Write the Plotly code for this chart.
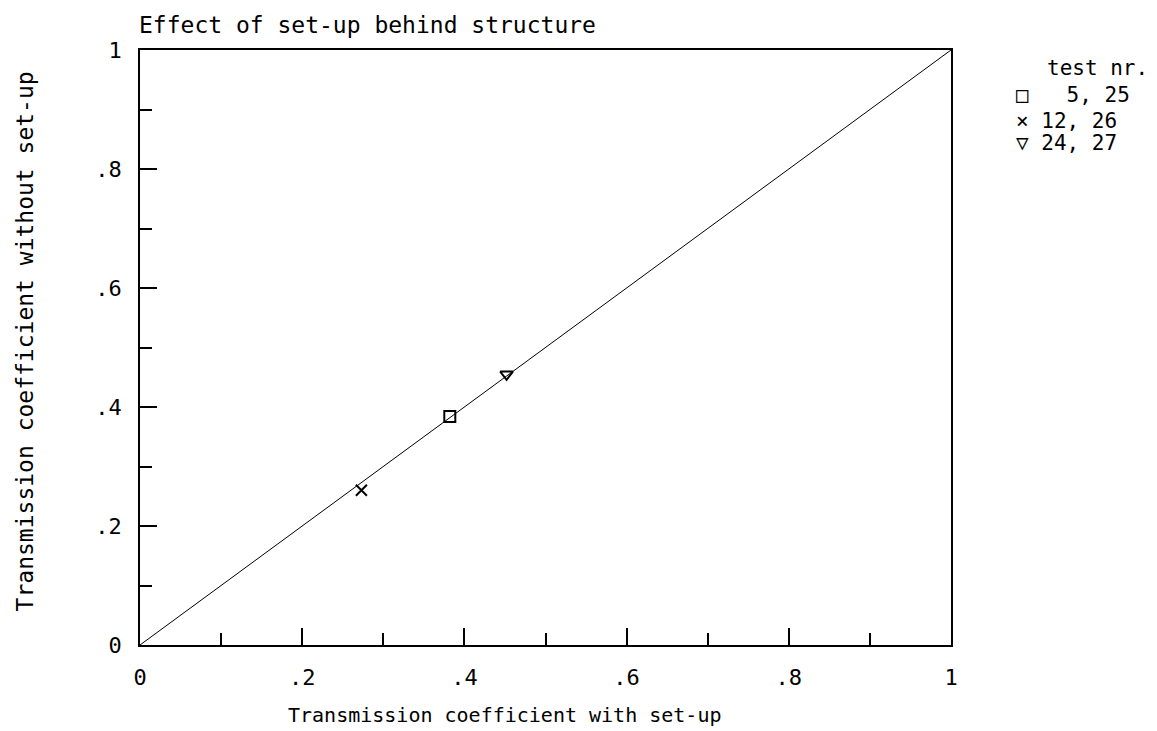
import plotly.graph_objects as go

# Data
series_labels = ["5, 25", "12, 26", "24, 27"]
series_symbols = ["square-open", "x-thin-open", "triangle-down-open"]
series_glyphs = ["\u25a1", "\u00d7", "\u25bd"]
series_pad = ["\u00a0\u00a0\u00a0", "\u00a0", "\u00a0"]
x_with_setup = [0.382, 0.273, 0.452]
y_without_setup = [0.384, 0.260, 0.455]

ref_line_x = [0, 1]
ref_line_y = [0, 1]

tick_vals = [0, 0.2, 0.4, 0.6, 0.8, 1]
tick_text = ["0", ".2", ".4", ".6", ".8", "1"]

FONT = "DejaVu Sans Mono"

fig = go.Figure()
fig.add_trace(go.Scatter(x=ref_line_x, y=ref_line_y, mode="lines",
                         line=dict(color="black", width=1), showlegend=False,
                         hoverinfo="skip"))
for i in range(len(series_labels)):
    fig.add_trace(go.Scatter(
        x=[x_with_setup[i]], y=[y_without_setup[i]], mode="markers",
        name=series_labels[i], showlegend=False,
        marker=dict(symbol=series_symbols[i], size=11, color="black",
                    line=dict(color="black", width=2)),
    ))

axis_common = dict(
    range=[0, 1], tickvals=tick_vals, ticktext=tick_text,
    ticks="inside", ticklen=17, tickwidth=1.5, tickcolor="black",
    showline=True, linecolor="black", linewidth=1.5, mirror=True,
    showgrid=False, zeroline=False,
    tickfont=dict(family=FONT, size=22, color="black"),
    minor=dict(ticks="inside", ticklen=12, tickwidth=1.5, tickcolor="black",
               dtick=0.1, showgrid=False),
)

fig.update_xaxes(**axis_common, ticklabelstandoff=12)
fig.update_yaxes(**axis_common, ticklabelstandoff=12)

annotations = [
    dict(text="Effect of set-up behind structure", xref="paper", yref="paper",
         x=-0.004, y=1.042, xanchor="left", yanchor="middle", showarrow=False,
         font=dict(family=FONT, size=23, color="black")),
    dict(text="Transmission coefficient with set-up", xref="paper", yref="paper",
         x=0.45, y=-0.118, xanchor="center", yanchor="middle", showarrow=False,
         font=dict(family=FONT, size=20, color="black")),
    dict(text="Transmission coefficient without set-up", xref="paper", yref="paper",
         x=-0.142, y=0.51, xanchor="center", yanchor="middle", showarrow=False,
         textangle=-90, font=dict(family=FONT, size=23, color="black")),
    dict(text="test nr.", xref="paper", yref="paper",
         x=1.116, y=0.970, xanchor="left", yanchor="middle", showarrow=False,
         font=dict(family=FONT, size=21, color="black")),
]
legend_rows_y = [0.924, 0.881, 0.844]
for i in range(len(series_labels)):
    annotations.append(dict(
        text=series_glyphs[i] + series_pad[i] + series_labels[i],
        xref="paper", yref="paper", x=1.0777, y=legend_rows_y[i],
        xanchor="left", yanchor="middle", showarrow=False,
        font=dict(family=FONT, size=21, color="black")))

fig.update_layout(
    width=1157, height=731,
    margin=dict(l=140, r=206, t=50, b=86),
    plot_bgcolor="white", paper_bgcolor="white",
    font=dict(family=FONT, color="black"),
    showlegend=False,
    annotations=annotations,
)

fig.write_html("out.html", config={"displayModeBar": False},
               post_script="document.body.style.margin='0';")
